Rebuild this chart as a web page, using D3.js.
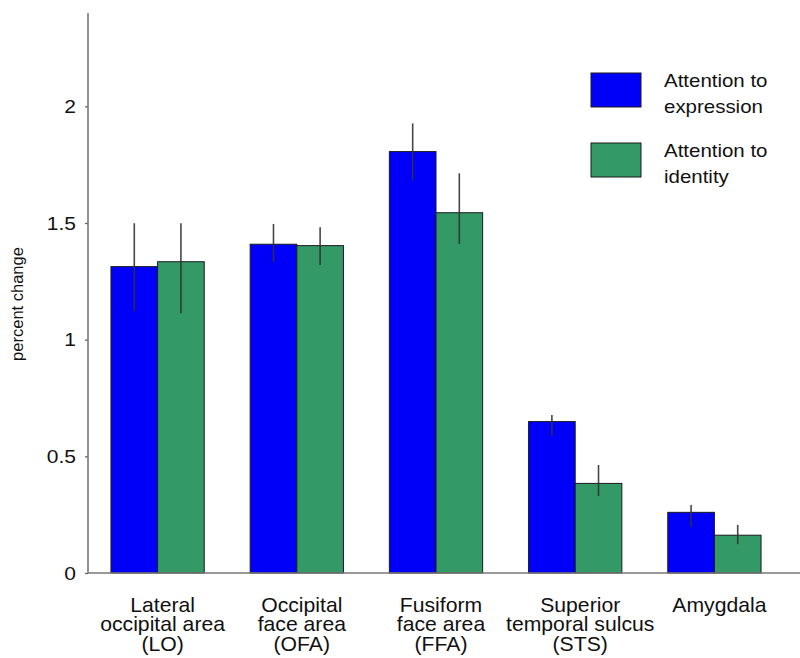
<!DOCTYPE html>
<html><head><meta charset="utf-8">
<script src="https://cdn.jsdelivr.net/npm/d3@7"></script>
<style>body{margin:0;background:#fff}text{font-family:"Liberation Sans",Arial,sans-serif;fill:#111}</style>
</head><body><svg id="c" width="800" height="658"></svg>
<script>
const categories = [["Lateral","occipital area","(LO)"],["Occipital","face area","(OFA)"],["Fusiform","face area","(FFA)"],["Superior","temporal sulcus","(STS)"],["Amygdala"]];
const seriesNames = [["Attention to","expression"],["Attention to","identity"]];
const expressionVals = [1.313,1.409,1.806,0.649,0.26];
const expressionLo = [1.124,1.334,1.684,0.587,0.198];
const expressionHi = [1.499,1.496,1.927,0.677,0.291];
const identityVals = [1.334,1.403,1.544,0.384,0.162];
const identityLo = [1.113,1.32,1.41,0.33,0.123];
const identityHi = [1.499,1.482,1.713,0.463,0.206];
const yTicks = [0,0.5,1,1.5,2];
const colors = ["#0000fa","#339966"];

const svg = d3.select("#c");
const y = d3.scaleLinear().domain([0,2.4]).range([573,13]);
const x0 = d3.scaleBand().domain(d3.range(categories.length)).range([88,784]).paddingInner(0.33).paddingOuter(0.165);
const x1 = d3.scaleBand().domain([0,1]).range([0,x0.bandwidth()]);

const series = [
  {vals:expressionVals, lo:expressionLo, hi:expressionHi},
  {vals:identityVals, lo:identityLo, hi:identityHi}
];

function stext(g, x, yy, str, size, sx, anchor){
  return g.append("text").attr("transform",`translate(${x},${yy}) scale(${sx},1)`)
    .attr("text-anchor",anchor).style("font-size",size+"px").text(str);
}

// bars
series.forEach((s,si)=>{
  const g = svg.append("g");
  s.vals.forEach((v,i)=>{
    g.append("rect").attr("x",x0(i)+x1(si)).attr("y",y(v))
      .attr("width",x1.bandwidth()).attr("height",y(0)-y(v))
      .attr("fill",colors[si]).attr("stroke","#1a1a1a").attr("stroke-width",1);
  });
});
// error bars
series.forEach((s,si)=>{
  s.vals.forEach((v,i)=>{
    const cx = x0(i)+x1(si)+x1.bandwidth()/2;
    svg.append("line").attr("x1",cx).attr("x2",cx).attr("y1",y(s.hi[i])).attr("y2",y(s.lo[i]))
      .attr("stroke","#333").attr("stroke-opacity",0.9).attr("stroke-width",1.6);
  });
});

// axes
const yAxis = d3.axisLeft(y).tickValues(yTicks).tickSize(3).tickPadding(9).tickFormat(d3.format("~g"));
const ya = svg.append("g").attr("transform","translate(88,0)").call(yAxis);
ya.select(".domain").remove();
ya.selectAll(".tick line").attr("stroke","#666").attr("stroke-width",1.3);
ya.selectAll(".tick text").each(function(d){
  const t=d3.select(this);
  t.attr("x",null).attr("dy",null).attr("text-anchor","end")
   .attr("transform",`translate(-12,${6.3}) scale(1.2,1)`).style("font-size","17.5px").style("font-family",null);
});
ya.attr("font-family",null).attr("font-size",null);
svg.append("line").attr("x1",88).attr("x2",88).attr("y1",y(2.4)).attr("y2",y(0)).attr("stroke","#777").attr("stroke-width",1.6);
svg.append("line").attr("x1",88).attr("x2",800).attr("y1",y(0)).attr("y2",y(0)).attr("stroke","#777").attr("stroke-width",1.6);

// category labels
const baselines=[611.7,631.3,650.5];
categories.forEach((lines,i)=>{
  const cx = x0(i)+x0.bandwidth()/2+5;
  lines.forEach((ln,j)=>stext(svg,cx,baselines[j],ln,20,1.06,"middle"));
});

// y label
svg.append("text").attr("transform","translate(23,304) rotate(-90)").attr("text-anchor","middle")
  .style("font-size","16.5px").text("percent change");

// legend
const legY=[73,143];
seriesNames.forEach((nm,k)=>{
  svg.append("rect").attr("x",591).attr("y",legY[k]).attr("width",50).attr("height",34)
    .attr("fill",colors[k]).attr("stroke","#1a1a1a").attr("stroke-width",1);
  nm.forEach((ln,j)=>stext(svg,664,legY[k]+14.3+j*25.4,ln,18.6,1.1,"start"));
});
</script></body></html>
